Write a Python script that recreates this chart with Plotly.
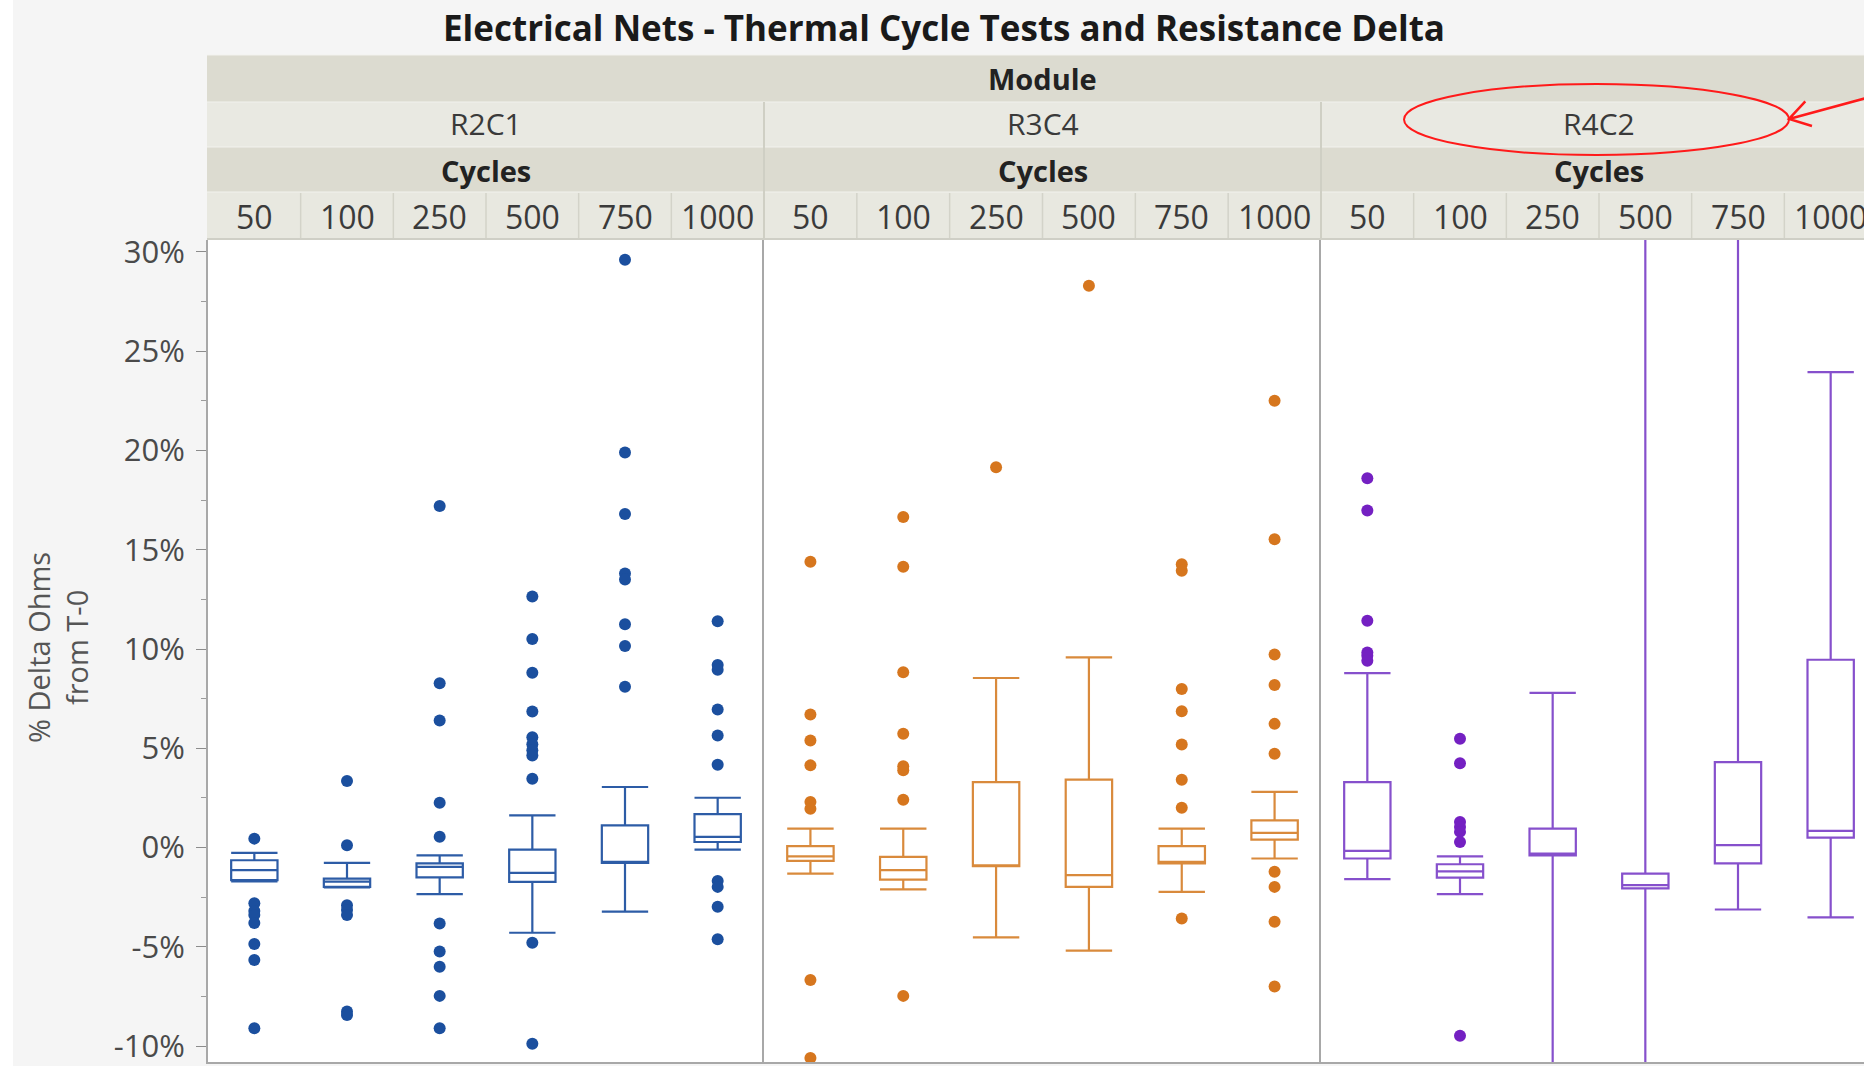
import math
import plotly.graph_objects as go
from plotly.subplots import make_subplots

# ---------------- data ----------------
cycles = ["50", "100", "250", "500", "750", "1000"]
modules = ["R2C1", "R3C4", "R4C2"]

# R2C1 box statistics (% delta ohms)
r2c1_q1 = [-1.64, -1.98, -1.50, -1.73, -0.77, 0.28]
r2c1_median = [-1.14, -1.72, -0.97, -1.27, -0.72, 0.54]
r2c1_q3 = [-0.64, -1.56, -0.80, -0.10, 1.12, 1.68]
r2c1_low = [-1.70, -2.00, -2.35, -4.29, -3.23, -0.10]
r2c1_high = [-0.27, -0.77, -0.39, 1.62, 3.05, 2.51]
r2c1_out_cycle = (["50"] * 8 + ["100"] * 7 + ["250"] * 10 + ["500"] * 11
                  + ["750"] * 8 + ["1000"] * 10)
r2c1_out_value = [0.45, -2.8, -3.2, -3.4, -3.8, -4.86, -5.66, -9.1,
                  3.35, 0.12, -2.9, -3.15, -3.4, -8.26, -8.43,
                  17.2, 8.27, 6.4, 2.26, 0.54, -3.82, -5.24, -6.0, -7.47, -9.1,
                  12.65, 10.5, 8.8, 6.85, 5.56, 5.2, 4.9, 4.64, 3.47, -4.79, -9.88,
                  29.6, 19.9, 16.8, 13.8, 13.5, 11.25, 10.15, 8.1,
                  11.4, 9.2, 8.95, 6.95, 5.64, 4.17, -1.68, -1.98, -2.98, -4.62]

# R3C4 box statistics
r3c4_q1 = [-0.67, -1.61, -0.94, -1.98, -0.80, 0.40]
r3c4_median = [-0.44, -1.14, -0.89, -1.39, -0.72, 0.74]
r3c4_q3 = [0.07, -0.47, 3.30, 3.42, 0.07, 1.37]
r3c4_low = [-1.31, -2.11, -4.52, -5.19, -2.23, -0.55]
r3c4_high = [0.95, 0.95, 8.54, 9.58, 0.95, 2.80]
r3c4_out_cycle = (["50"] * 8 + ["100"] * 8 + ["250"] * 1 + ["500"] * 1
                  + ["750"] * 8 + ["1000"] * 10)
r3c4_out_value = [14.4, 6.7, 5.39, 4.14, 2.29, 1.96, -6.67, -10.6,
                  16.65, 14.14, 8.83, 5.73, 4.09, 3.89, 2.41, -7.47,
                  19.16,
                  28.3,
                  14.27, 13.94, 7.99, 6.87, 5.19, 3.42, 2.01, -3.57,
                  22.5, 15.53, 9.72, 8.19, 6.23, 4.72, -1.22, -1.98, -3.74, -7.0]

# R4C2 box statistics
r4c2_q1 = [-0.55, -1.51, -0.39, -2.06, -0.80, 0.50]
r4c2_median = [-0.17, -1.20, -0.30, -1.89, 0.12, 0.84]
r4c2_q3 = [3.30, -0.84, 0.95, -1.31, 4.30, 9.46]
r4c2_low = [-1.59, -2.35, -14.0, -15.0, -3.12, -3.52]
r4c2_high = [8.79, -0.44, 7.79, 40.0, 35.0, 23.95]
r4c2_out_cycle = ["50"] * 6 + ["100"] * 7
r4c2_out_value = [18.6, 16.98, 11.42, 9.83, 9.66, 9.41,
                  5.48, 4.25, 1.29, 1.04, 0.79, 0.28, -9.48]

y_ticks = [-10, -5, 0, 5, 10, 15, 20, 25, 30]

# ---------------- styling / layout ----------------
W, H = 1864, 1066
ML, MR, MT, MB = 208, 0, 240, 4
PW, PH = W - ML - MR, H - MT - MB


def px(x):
    return (x - ML) / PW


def py(y):
    return (H - MB - y) / PH


panel_px = [(208, 764), (764, 1321), (1321, 1877)]
unit_px = (panel_px[0][1] - panel_px[0][0]) / 6.0
x3_max = -0.5 + (W - panel_px[2][0]) / unit_px

FONT = "Open Sans, Noto Sans, Liberation Sans, sans-serif"
line_colors = ["#2d5ca6", "#d98a3c", "#8650cc"]
point_colors = ["#1b4f9e", "#d6761e", "#7420c2"]

stats = [
    (r2c1_q1, r2c1_median, r2c1_q3, r2c1_low, r2c1_high, r2c1_out_cycle, r2c1_out_value),
    (r3c4_q1, r3c4_median, r3c4_q3, r3c4_low, r3c4_high, r3c4_out_cycle, r3c4_out_value),
    (r4c2_q1, r4c2_median, r4c2_q3, r4c2_low, r4c2_high, r4c2_out_cycle, r4c2_out_value),
]

fig = make_subplots(rows=1, cols=3, shared_yaxes=True, horizontal_spacing=0)

for i, (q1, med, q3, lo, hi, oc, ov) in enumerate(stats):
    fig.add_trace(go.Box(
        x=cycles, q1=q1, median=med, q3=q3, lowerfence=lo, upperfence=hi,
        boxpoints=False, width=0.5, whiskerwidth=1,
        line=dict(color=line_colors[i], width=2.2),
        fillcolor="rgba(255,255,255,0)", showlegend=False, name=modules[i],
    ), row=1, col=i + 1)
    fig.add_trace(go.Scatter(
        x=oc, y=ov, mode="markers",
        marker=dict(color=point_colors[i], size=12),
        showlegend=False, name=modules[i],
    ), row=1, col=i + 1)

axis_line = "#a8a8a8"
for i in range(3):
    xa = "xaxis" if i == 0 else f"xaxis{i + 1}"
    dom = [px(panel_px[i][0]), min(1.0, px(panel_px[i][1]))]
    rng = [-0.5, 5.5] if i < 2 else [-0.5, x3_max]
    fig.layout[xa].update(domain=dom, range=rng, type="category",
                          categoryorder="array", categoryarray=cycles,
                          showticklabels=False, ticks="", showgrid=False,
                          zeroline=False, showline=True, linecolor=axis_line,
                          linewidth=2)
    ya = "yaxis" if i == 0 else f"yaxis{i + 1}"
    fig.layout[ya].update(range=[-10.8, 30.6], showgrid=False, zeroline=False,
                          showline=True, linecolor=axis_line, linewidth=2)

fig.layout.yaxis.update(
    tickvals=y_ticks, ticktext=[f"{v}%" for v in y_ticks],
    ticks="outside", ticklen=10, tickwidth=1, tickcolor="#8c8c8c",
    ticklabelstandoff=5,
    tickfont=dict(family=FONT, size=31, color="#4a4a4a"),
    minor=dict(ticks="outside", ticklen=5, tickcolor="#9c9c9c",
               tickvals=[v + 2.5 for v in y_ticks[:-1]]),
)
fig.layout.yaxis2.update(ticks="", showticklabels=False)
fig.layout.yaxis3.update(ticks="", showticklabels=False)

shapes = []
annotations = []

# white strip at far left (screenshot border)
shapes.append(dict(type="rect", xref="paper", yref="paper", x0=px(0), x1=px(13),
                   y0=py(H), y1=py(0), fillcolor="#ffffff", line=dict(width=0),
                   layer="below"))

# header rows
rows = [(55, 102, "#dcdbd0"), (102, 147, "#e9e9e2"), (147, 192, "#dcdbd0"), (192, 238, "#e8e8e0")]
for (y0, y1, c) in rows:
    shapes.append(dict(type="rect", xref="paper", yref="paper",
                       x0=px(207), x1=px(1880), y0=py(y1), y1=py(y0),
                       fillcolor=c, line=dict(width=0), layer="below"))
    shapes.append(dict(type="line", xref="paper", yref="paper",
                       x0=px(207), x1=px(1880), y0=py(y0), y1=py(y0),
                       line=dict(color="#f2f2ee", width=1)))
# header bottom border
shapes.append(dict(type="line", xref="paper", yref="paper", x0=px(207), x1=px(1880),
                   y0=py(239), y1=py(239), line=dict(color="#cfcfc6", width=2)))
# panel dividers in header
for b in [764, 1321]:
    shapes.append(dict(type="line", xref="paper", yref="paper", x0=px(b), x1=px(b),
                       y0=py(238), y1=py(102), line=dict(color="#cfcfc4", width=2)))
# cycle cell dividers
for i in range(3):
    xr = "x" if i == 0 else f"x{i + 1}"
    for k in range(5):
        shapes.append(dict(type="line", xref=xr, yref="paper", x0=k + 0.5, x1=k + 0.5,
                           y0=py(238), y1=py(193), line=dict(color="#d3d3c9", width=1.5)))

# title
annotations.append(dict(xref="paper", yref="paper", x=px(944), y=py(27),
                        text="<b>Electrical Nets - Thermal Cycle Tests and Resistance Delta</b>",
                        showarrow=False, xanchor="center", yanchor="middle",
                        font=dict(family=FONT, size=35, color="#1a1a1a")))
annotations.append(dict(xref="paper", yref="paper", x=px(1042), y=py(79),
                        text="<b>Module</b>", showarrow=False, yanchor="middle",
                        font=dict(family=FONT, size=29, color="#222222")))
for i in range(3):
    xr = "x" if i == 0 else f"x{i + 1}"
    annotations.append(dict(xref=xr, yref="paper", x=2.5, y=py(124), text=modules[i],
                            showarrow=False, yanchor="middle",
                            font=dict(family=FONT, size=30, color="#3a3a3a")))
    annotations.append(dict(xref=xr, yref="paper", x=2.5, y=py(170), text="<b>Cycles</b>",
                            showarrow=False, yanchor="middle",
                            font=dict(family=FONT, size=29, color="#222222")))
    for k, c in enumerate(cycles):
        annotations.append(dict(xref=xr, yref="paper", x=k, y=py(216), text=c,
                                showarrow=False, yanchor="middle",
                                font=dict(family=FONT, size=32, color="#3a3a3a")))

# y-axis title
annotations.append(dict(xref="paper", yref="paper", x=px(57), y=py(648),
                        text="% Delta Ohms<br>from T-0", showarrow=False, textangle=-90,
                        xanchor="center", yanchor="middle",
                        font=dict(family=FONT, size=29, color="#555555")))

# red ellipse & arrow (markup on the reference)
shapes.append(dict(type="circle", xref="paper", yref="paper",
                   x0=px(1404), x1=px(1789), y0=py(155), y1=py(84),
                   line=dict(color="#ff1a1a", width=2)))
tip = (1789, 119)
tail = (1870, 97)
dx, dy = tail[0] - tip[0], tail[1] - tip[1]
L = math.hypot(dx, dy)
ux, uy = dx / L, dy / L
barbs = []
for ang in (math.radians(32), math.radians(-32)):
    bx = ux * math.cos(ang) - uy * math.sin(ang)
    by = ux * math.sin(ang) + uy * math.cos(ang)
    barbs.append((tip[0] + 24 * bx, tip[1] + 24 * by))
path = (f"M {px(tail[0])},{py(tail[1])} L {px(tip[0])},{py(tip[1])} "
        f"M {px(barbs[0][0])},{py(barbs[0][1])} L {px(tip[0])},{py(tip[1])} "
        f"L {px(barbs[1][0])},{py(barbs[1][1])}")
shapes.append(dict(type="path", xref="paper", yref="paper", path=path,
                   line=dict(color="#ff1a1a", width=2.5)))

fig.update_layout(
    width=W, height=H,
    margin=dict(l=ML, r=MR, t=MT, b=MB, pad=0),
    paper_bgcolor="#f5f5f5", plot_bgcolor="#ffffff",
    font=dict(family=FONT),
    shapes=shapes, annotations=annotations,
    showlegend=False,
)

fig.write_html("out.html", config={"displayModeBar": False},
               post_script="document.body.style.margin='0px';document.body.style.overflow='hidden';")
